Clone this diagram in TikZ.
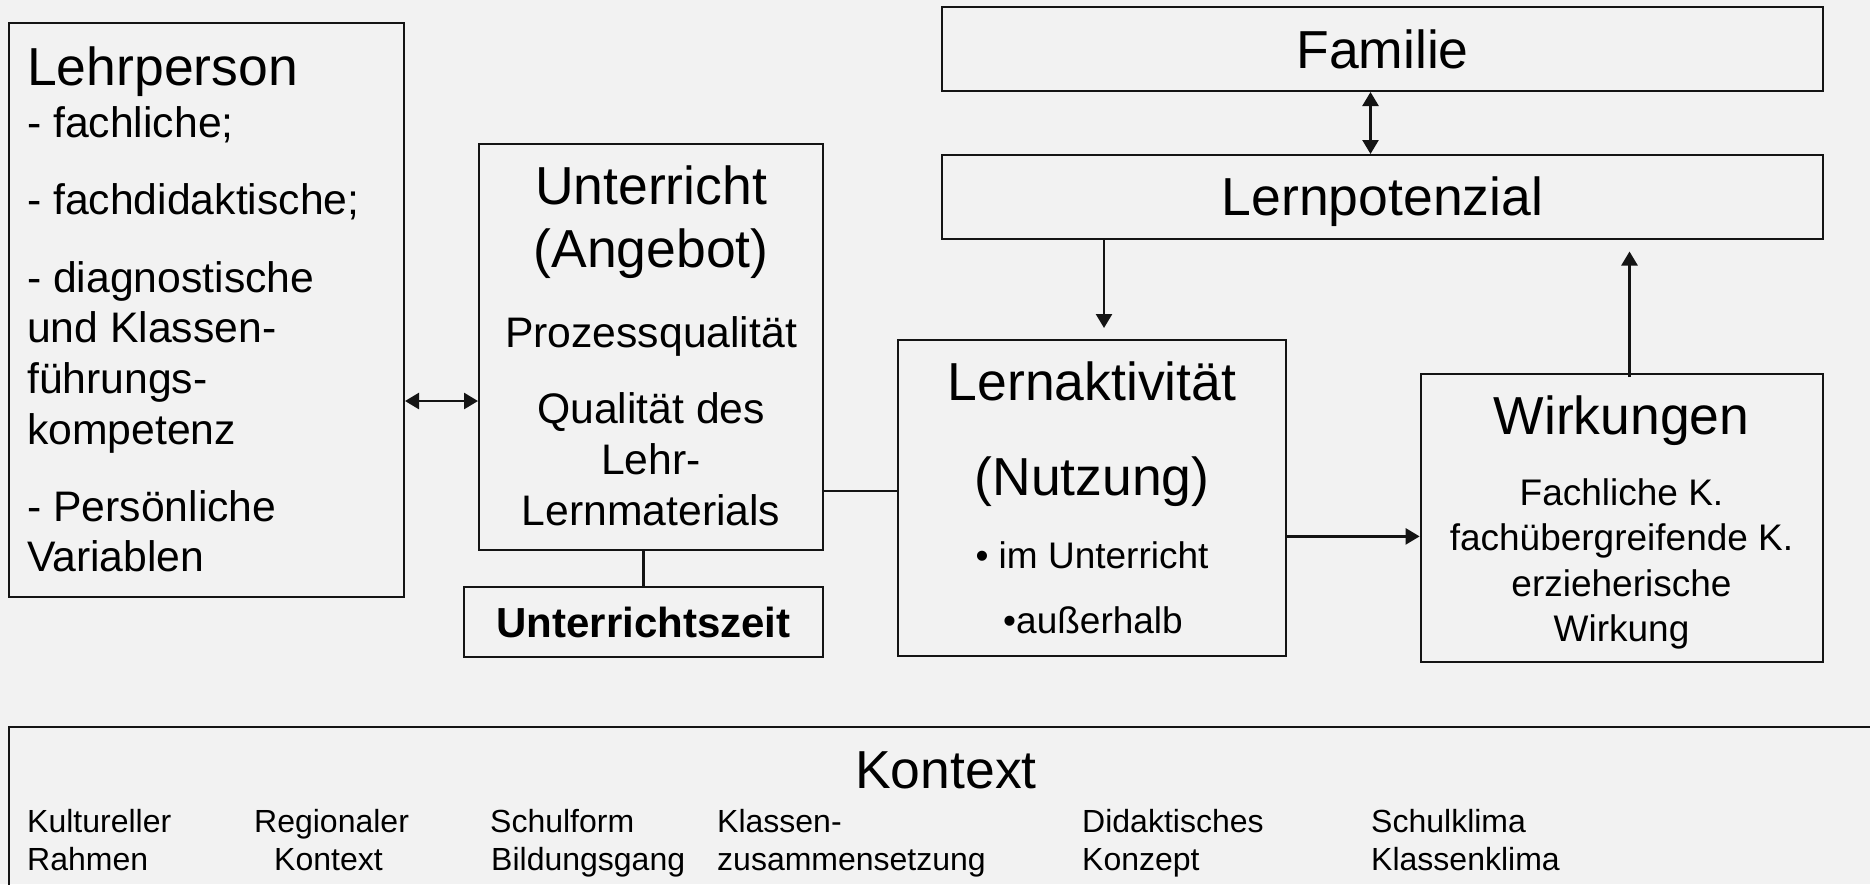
\documentclass[tikz,border=0pt]{standalone}
\usepackage{fontspec}
\setmainfont{Liberation Sans}
\usetikzlibrary{arrows.meta}
\definecolor{bg}{RGB}{242,242,242}
\definecolor{ln}{RGB}{20,20,20}
\newcommand\fsz[1]{\fontsize{#1}{#1}\selectfont}
\tikzset{
  box/.style={draw=ln, line width=2pt, inner sep=0pt, rectangle},
  big/.style={inner sep=0pt, font=\fsz{53.5}},
  mid/.style={inner sep=0pt, font=\fsz{42.7}},
  sml/.style={inner sep=0pt, font=\fsz{37}},
  ctx/.style={inner sep=0pt, font=\fsz{32}, anchor=base west},
  conn/.style={draw=ln, line width=2.6pt},
  arr/.style={conn, -{Triangle[length=14pt,width=16pt]}},
  dbl/.style={conn, {Triangle[length=14pt,width=16pt]}-{Triangle[length=14pt,width=16pt]}},
}
\begin{document}
\begin{tikzpicture}[x=1pt,y=-1pt]
\fill[bg] (0,0) rectangle (1870,884);
\useasboundingbox (0,0) rectangle (1870,884);
\clip (0,0) rectangle (1870,884);

% boxes
\node[box, minimum width=395pt, minimum height=574pt] (lehr) at (206.5,310) {};
\node[box, minimum width=344pt, minimum height=406pt] (unt) at (651,347) {};
\node[box, minimum width=359.5pt, minimum height=70pt] (uzeit) at (643.25,622) {};
\node[box, minimum width=881pt, minimum height=84pt] (fam) at (1382.5,49) {};
\node[box, minimum width=881pt, minimum height=83.5pt] (lpot) at (1382.5,196.75) {};
\node[box, minimum width=388.5pt, minimum height=316pt] (lakt) at (1091.75,498) {};
\node[box, minimum width=402.4pt, minimum height=288pt] (wirk) at (1621.8,518) {};
\node[box, minimum width=1891.5pt, minimum height=193.3pt] (kont) at (954.25,823.35) {};

% Lehrperson text
\node[big, anchor=base west] (t1) at (27,85) {Lehrperson};
\node[mid, anchor=base west] (t2) at (27,137.3) {- fachliche;};
\node[mid, anchor=base west] (t3) at (27,214) {- fachdidaktische;};
\node[mid, anchor=base west] (t4) at (27,292.5) {- diagnostische};
\node[mid, anchor=base west] (t5) at (27,342.5) {und Klassen-};
\node[mid, anchor=base west] (t6) at (27,393.5) {führungs-};
\node[mid, anchor=base west] (t7) at (27,444) {kompetenz};
\node[mid, anchor=base west] (t8) at (27,521.5) {- Persönliche};
\node[mid, anchor=base west] (t9) at (27,571.5) {Variablen};

% Unterricht text
\node[big, anchor=base] (u1) at (651,204) {Unterricht};
\node[big, anchor=base] (u2) at (651,267) {(Angebot)};
\node[mid, anchor=base] (u3) at (651,347) {Prozessqualität};
\node[mid, anchor=base] (u4) at (651,423) {Qualität des};
\node[mid, anchor=base] (u5) at (651,474) {Lehr-};
\node[mid, anchor=base] (u6) at (651,525.5) {Lernmaterials};

\node[inner sep=0pt, font=\fsz{42}\bfseries, anchor=base] (z1) at (643.5,637.3) {Unterrichtszeit};

% Familie / Lernpotenzial
\node[big, anchor=base] (f1) at (1382.5,68) {Familie};
\node[big, anchor=base] (p1) at (1382.5,215.5) {Lernpotenzial};

% Lernaktivitaet
\node[big, anchor=base] (a1) at (1092,400) {Lernaktivität};
\node[big, anchor=base] (a2) at (1092,495) {(Nutzung)};
\node[sml, anchor=base] (a3) at (1092,568) {• im Unterricht};
\node[sml, anchor=base] (a4) at (1093,633) {•außerhalb};

% Wirkungen
\node[big, anchor=base] (w1) at (1621.5,434.5) {Wirkungen};
\node[sml, anchor=base] (w2) at (1621.5,505) {Fachliche K.};
\node[sml, anchor=base] (w3) at (1621.5,550.5) {fachübergreifende K.};
\node[sml, anchor=base] (w4) at (1621.5,596) {erzieherische};
\node[sml, anchor=base] (w5) at (1621.5,641) {Wirkung};

% Kontext
\node[big, anchor=base] (k0) at (946,788) {Kontext};
\node[ctx] (k1) at (27,832) {Kultureller};
\node[ctx] (k2) at (27,870.5) {Rahmen};
\node[ctx] (k3) at (254,832) {Regionaler};
\node[ctx] (k4) at (274,870.5) {Kontext};
\node[ctx] (k5) at (490,832) {Schulform};
\node[ctx] (k6) at (491,870.5) {Bildungsgang};
\node[ctx] (k7) at (717,832) {Klassen-};
\node[ctx] (k8) at (717,870.5) {zusammensetzung};
\node[ctx] (k9) at (1082,832) {Didaktisches};
\node[ctx] (k10) at (1082,870.5) {Konzept};
\node[ctx] (k11) at (1371,832) {Schulklima};
\node[ctx] (k12) at (1371,870.5) {Klassenklima};

% helper coordinates
\coordinate (ya) at (0,401);
\coordinate (yb) at (0,491);
\coordinate (yc) at (0,536.4);
\coordinate (xa) at (1370.5,0);
\coordinate (xb) at (1104,0);
\coordinate (xc) at (1629.5,0);

% connectors
\draw[dbl] (lehr.east |- ya) -- (unt.west |- ya);
\draw[conn] (uzeit.north) -- (uzeit.north |- unt.south);
\draw[conn] (unt.east |- yb) -- (lakt.west |- yb);
\draw[dbl] (fam.south -| xa) -- (lpot.north -| xa);
\draw[arr, shorten >=11pt] (lpot.south -| xb) -- (lakt.north -| xb);
\draw[arr] (lakt.east |- yc) -- (wirk.west |- yc);
\draw[arr, shorten <=-4pt, shorten >=12pt] (wirk.north -| xc) -- (lpot.south -| xc);
\end{tikzpicture}
\end{document}
